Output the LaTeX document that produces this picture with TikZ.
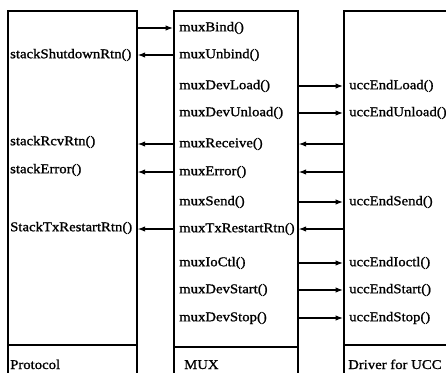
\documentclass[tikz,border=0pt]{standalone}
\usepackage{fontspec}
\setmainfont{Liberation Serif}
\newfontfamily\labelfont[FakeBold=1.2, FakeStretch=1.1]{Liberation Serif}
\usetikzlibrary{arrows.meta}
\begin{document}
\begin{tikzpicture}[x=1pt,y=-1pt,
  box/.style={draw, line width=1.7pt, anchor=north west, inner sep=0pt},
  fn/.style={anchor=west, inner sep=0pt, font=\labelfont\fontsize{13.4}{15}\selectfont},
  call/.style={line width=1.1pt, -{Latex[length=7.5pt,width=5.5pt]}},
  divider/.style={line width=1.7pt},
]
\useasboundingbox (0,0) rectangle (446,372);
\begin{scope}
  \clip (0,0) rectangle (446,372);
  % the three layers
  \node[box, minimum width=129pt, minimum height=400pt] (prot) at (7,10) {};
  \node[box, minimum width=124pt, minimum height=400pt] (mux) at (173,10) {};
  \node[box, minimum width=140pt, minimum height=400pt] (drv) at (343,10) {};
  \draw[divider] (prot.west |- 0,345) -- (prot.east |- 0,345);
  \draw[divider] (mux.west |- 0,347) -- (mux.east |- 0,347);
  \draw[divider] (drv.west |- 0,345) -- (drv.east |- 0,345);
\end{scope}

% MUX entry points
\node[fn] (bind)    at (179,28)  {muxBind()};
\node[fn] (unbind)  at (179,55)  {muxUnbind()};
\node[fn] (load)    at (179,86)  {muxDevLoad()};
\node[fn] (unload)  at (179,113) {muxDevUnload()};
\node[fn] (recv)    at (179,144) {muxReceive()};
\node[fn] (err)     at (179,172) {muxError()};
\node[fn] (send)    at (179,202) {muxSend()};
\node[fn] (txr)     at (179,229) {muxTxRestartRtn()};
\node[fn] (ioctl)   at (179,263) {muxIoCtl()};
\node[fn] (start)   at (179,290) {muxDevStart()};
\node[fn] (stop)    at (179,318) {muxDevStop()};

% protocol routines
\node[fn] (shut)  at (10,55)  {stackShutdownRtn()};
\node[fn] (rcv)   at (10,142) {stackRcvRtn()};
\node[fn] (serr)  at (10,170) {stackError()};
\node[fn] (stxr)  at (10,228) {StackTxRestartRtn()};

% driver routines
\node[fn] (eload)   at (349,86)  {uccEndLoad()};
\node[fn] (eunload) at (349,113) {uccEndUnload()};
\node[fn] (esend)   at (349,202) {uccEndSend()};
\node[fn] (eioctl)  at (349,263) {uccEndIoctl()};
\node[fn] (estart)  at (349,290) {uccEndStart()};
\node[fn] (estop)   at (349,318) {uccEndStop()};

% layer names
\node[fn, anchor=base west] (lprot) at (10,369) {Protocol};
\node[fn, anchor=base west] (lmux)  at (184,369) {MUX};
\node[fn, anchor=base west] (ldrv)  at (348,369) {Driver for UCC};

% protocol <-> MUX
\draw[call] (prot.east |- bind)   -- (mux.west |- bind);
\draw[call] (mux.west |- unbind)  -- (prot.east |- unbind);
\draw[call] (mux.west |- recv)    -- (prot.east |- recv);
\draw[call] (mux.west |- err)     -- (prot.east |- err);
\draw[call] (mux.west |- txr)     -- (prot.east |- txr);

% MUX <-> driver
\draw[call] (mux.east |- load)    -- (drv.west |- load);
\draw[call] (mux.east |- unload)  -- (drv.west |- unload);
\draw[call] (drv.west |- recv)    -- (mux.east |- recv);
\draw[call] (drv.west |- err)     -- (mux.east |- err);
\draw[call] (mux.east |- send)    -- (drv.west |- send);
\draw[call] (drv.west |- txr)     -- (mux.east |- txr);
\draw[call] (mux.east |- ioctl)   -- (drv.west |- ioctl);
\draw[call] (mux.east |- start)   -- (drv.west |- start);
\draw[call] (mux.east |- stop)    -- (drv.west |- stop);
\end{tikzpicture}
\end{document}
